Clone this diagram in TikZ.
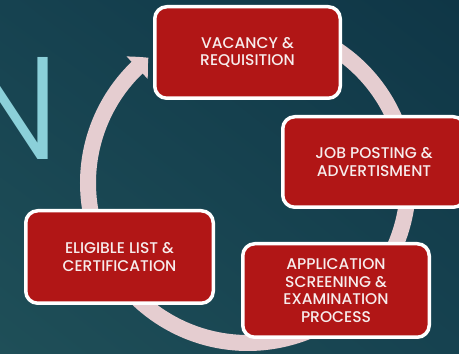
\documentclass[tikz,border=0pt]{standalone}
\usepackage{fontspec}
\setmainfont{Poppins Medium}
\newfontfamily\thinfont{Poppins Light}
\usetikzlibrary{arrows.meta,bending,shadings}

\definecolor{bgdark}{HTML}{0F3646}
\definecolor{bgmid}{HTML}{164250}
\definecolor{bglight}{HTML}{1F4F58}
\definecolor{ringpink}{HTML}{E5CDD0}
\definecolor{boxred}{HTML}{B11616}
\definecolor{letterblue}{HTML}{8BD0D9}
\definecolor{boxtext}{HTML}{F7ECEC}

\begin{document}
\begin{tikzpicture}[x=1pt,y=1pt,
  stagebox/.style={draw=white, line width=3.5pt, fill=boxred, rounded corners=12pt,
    text=boxtext, align=center, inner sep=0pt,
    font=\fontsize{15.5}{17.5}\selectfont},
  ringarrow/.style={ringpink, line width=16pt,
    -{Triangle[width=30pt,length=15pt,bend]}}]
\useasboundingbox (0,0) rectangle (459,354);
\begin{scope}
\clip (0,0) rectangle (459,354);
% background
\shade[lower left=bglight, upper right=bgdark, upper left=bgmid, lower right=bgmid]
  (0,0) rectangle (459,354);

% large title letter running off the left edge
\node[anchor=base east, inner sep=0pt, text=letterblue,
  font=\thinfont\fontsize{146}{146}\selectfont] (bigN) at (60,194) {N};

% cycle ring with arrowhead
\draw[ringarrow] (328,309.6) arc[start angle=60, end angle=-231.5, radius=160];

% process stages
\node[stagebox, minimum width=185.5pt, minimum height=91.5pt] (vac) at (247.5,301.5)
  {VACANCY \&\\REQUISITION};
\node[stagebox, minimum width=182.5pt, minimum height=90.5pt] (job) at (374,192)
  {JOB POSTING \&\\ADVERTISMENT};
\node[stagebox, minimum width=186.5pt, minimum height=93.5pt] (app) at (336,63.5)
  {APPLICATION\\SCREENING \&\\EXAMINATION\\PROCESS};
\node[stagebox, minimum width=187.5pt, minimum height=92.5pt] (elig) at (119.5,97)
  {ELIGIBLE LIST \&\\CERTIFICATION};
\end{scope}
\end{tikzpicture}
\end{document}
